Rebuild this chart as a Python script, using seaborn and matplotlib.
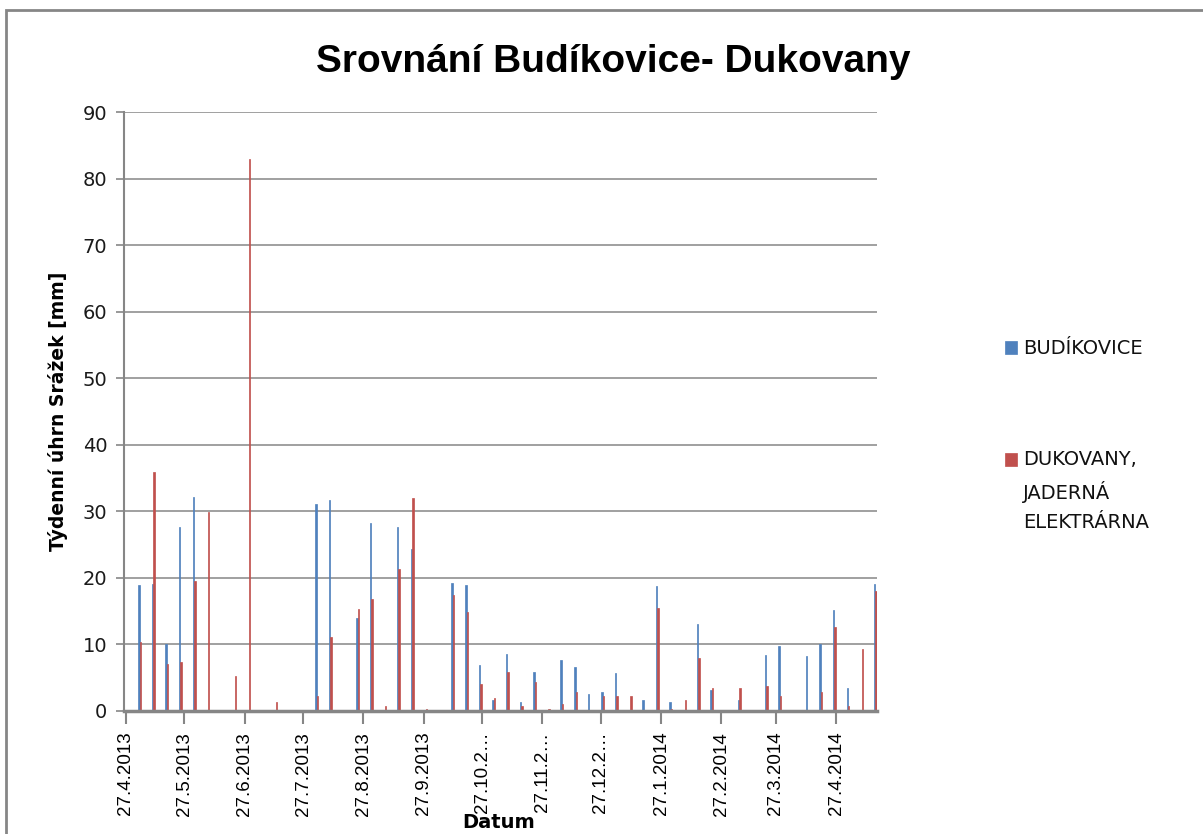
import matplotlib
matplotlib.use('Agg')
import matplotlib.pyplot as plt
import matplotlib.dates as mdates
from matplotlib.patches import Rectangle
import numpy as np
import pandas as pd
import seaborn as sns

# weekly precipitation totals [mm], one value per week
dates = pd.date_range('2013-05-04', periods=55, freq='7D')

budikovice = [18.9, 19.1, 10.0, 27.7, 32.1, 0, 0, 0, 0, 0,
              0, 0, 0, 31.1, 31.7, 0, 14.0, 28.2, 0, 27.7,
              24.3, 0.2, 0, 19.3, 18.9, 6.9, 1.6, 8.5, 1.4, 5.8,
              0, 7.6, 6.6, 2.5, 2.8, 5.7, 0, 1.6, 18.8, 1.4,
              0, 13.1, 3.1, 0, 1.6, 0, 8.4, 9.7, 0, 8.2,
              10.0, 15.2, 3.5, 0, 19.1]

dukovany = [10.3, 35.9, 7.0, 7.3, 19.5, 29.9, 0, 5.2, 83.0, 0,
            1.4, 0, 0, 2.2, 11.1, 0, 15.3, 16.9, 0.8, 21.3,
            32.0, 0.3, 0, 17.4, 14.8, 4.1, 2.0, 5.9, 0.8, 4.4,
            0.35, 1.1, 2.9, 0, 2.2, 2.3, 2.2, 0, 15.5, 0.3,
            1.6, 7.9, 3.4, 0, 3.5, 0, 3.8, 2.2, 0, 0,
            2.8, 12.6, 0.8, 9.3, 18.0]

stations = ['BUDÍKOVICE', 'DUKOVANY,\nJADERNÁ\nELEKTRÁRNA']
colors = ['#4F81BD', '#C0504D']

tick_dates = pd.date_range('2013-04-27', periods=13, freq=pd.DateOffset(months=1))
tick_labels = ['27.4.2013', '27.5.2013', '27.6.2013', '27.7.2013', '27.8.2013',
               '27.9.2013', '27.10.2…', '27.11.2…', '27.12.2…', '27.1.2014',
               '27.2.2014', '27.3.2014', '27.4.2014']

df = pd.DataFrame({
    'datum': np.tile(mdates.date2num(dates), 2),
    'srazky': budikovice + dukovany,
    'stanice': np.repeat(stations, len(dates)),
})

sns.set_style('white')
plt.rcParams['font.family'] = ['DejaVu Sans']
plt.rcParams['text.color'] = 'black'

fig = plt.figure(figsize=(12.03, 8.34), dpi=100)
ax = fig.add_axes([124 / 1203, 1 - 711 / 834, 753 / 1203, 599 / 834])

sns.barplot(data=df, x='datum', y='srazky', hue='stanice', native_scale=True,
            palette=colors, saturation=1, width=0.22, errorbar=None, ax=ax)
for p in ax.patches:
    p.set_edgecolor(p.get_facecolor())
    p.set_linewidth(0.5)

grid_c = '#868686'
ax.set_ylim(0, 90)
ax.set_yticks(range(0, 91, 10))
ax.set_xlim(mdates.date2num(pd.Timestamp('2013-04-26')),
            mdates.date2num(pd.Timestamp('2014-05-17')) + 0.9)
ax.set_xticks(mdates.date2num(tick_dates))
ax.set_xticklabels(tick_labels, rotation=90, fontsize=13.5,
                   family=['Liberation Sans', 'DejaVu Sans'])
ax.tick_params(axis='y', labelsize=14, length=6, color=grid_c, width=1.2,
               direction='out', left=True, pad=6, labelcolor='#1a1a1a')
ax.tick_params(axis='x', length=9, color=grid_c, width=1.5, direction='out',
               bottom=True, pad=6, labelcolor='black')

ax.yaxis.grid(True, color=grid_c, linewidth=1.1)
ax.set_axisbelow(True)
for s in ['top', 'right']:
    ax.spines[s].set_visible(False)
ax.spines['left'].set_color(grid_c)
ax.spines['left'].set_linewidth(1.5)
ax.spines['bottom'].set_color(grid_c)
ax.spines['bottom'].set_linewidth(2.5)

ax.set_ylabel('Týdenní úhrn Srážek [mm]', fontsize=13.5, fontweight='bold', color='black')
ax.yaxis.set_label_coords(-0.074, 0.5)
ax.set_xlabel('Datum', fontsize=14, fontweight='bold', va='top', color='black')
ax.xaxis.set_label_coords(0.497, -0.171)

fig.text(0.51, 1 - 62 / 834, 'Srovnání Budíkovice- Dukovany', ha='center', va='center',
         fontsize=28, fontweight='bold', color='black',
         family=['Liberation Sans', 'DejaVu Sans'])

handles, labels = ax.get_legend_handles_labels()
ax.legend_.remove()
leg = fig.legend(handles, labels, loc='upper left', bbox_to_anchor=(987 / 1203, 1 - 322 / 834),
                 frameon=False, fontsize=14, handlelength=0.65, handleheight=0.65,
                 handletextpad=0.3, labelspacing=4.7)
for t in leg.get_texts():
    t.set_linespacing(1.66)
    t.set_multialignment('left')
    t.set_color('#111111')
# align the square of the multi-line entry with its first line
h2 = leg.legend_handles[1]
h2.set_y(h2.get_y() + 23)

# chart area frame
fig.add_artist(Rectangle((6 / 1203, -0.5), 2, 0.5 + 1 - 10 / 834, transform=fig.transFigure,
                         fill=False, edgecolor=grid_c, linewidth=2))

fig.savefig('out.png', dpi=100)
